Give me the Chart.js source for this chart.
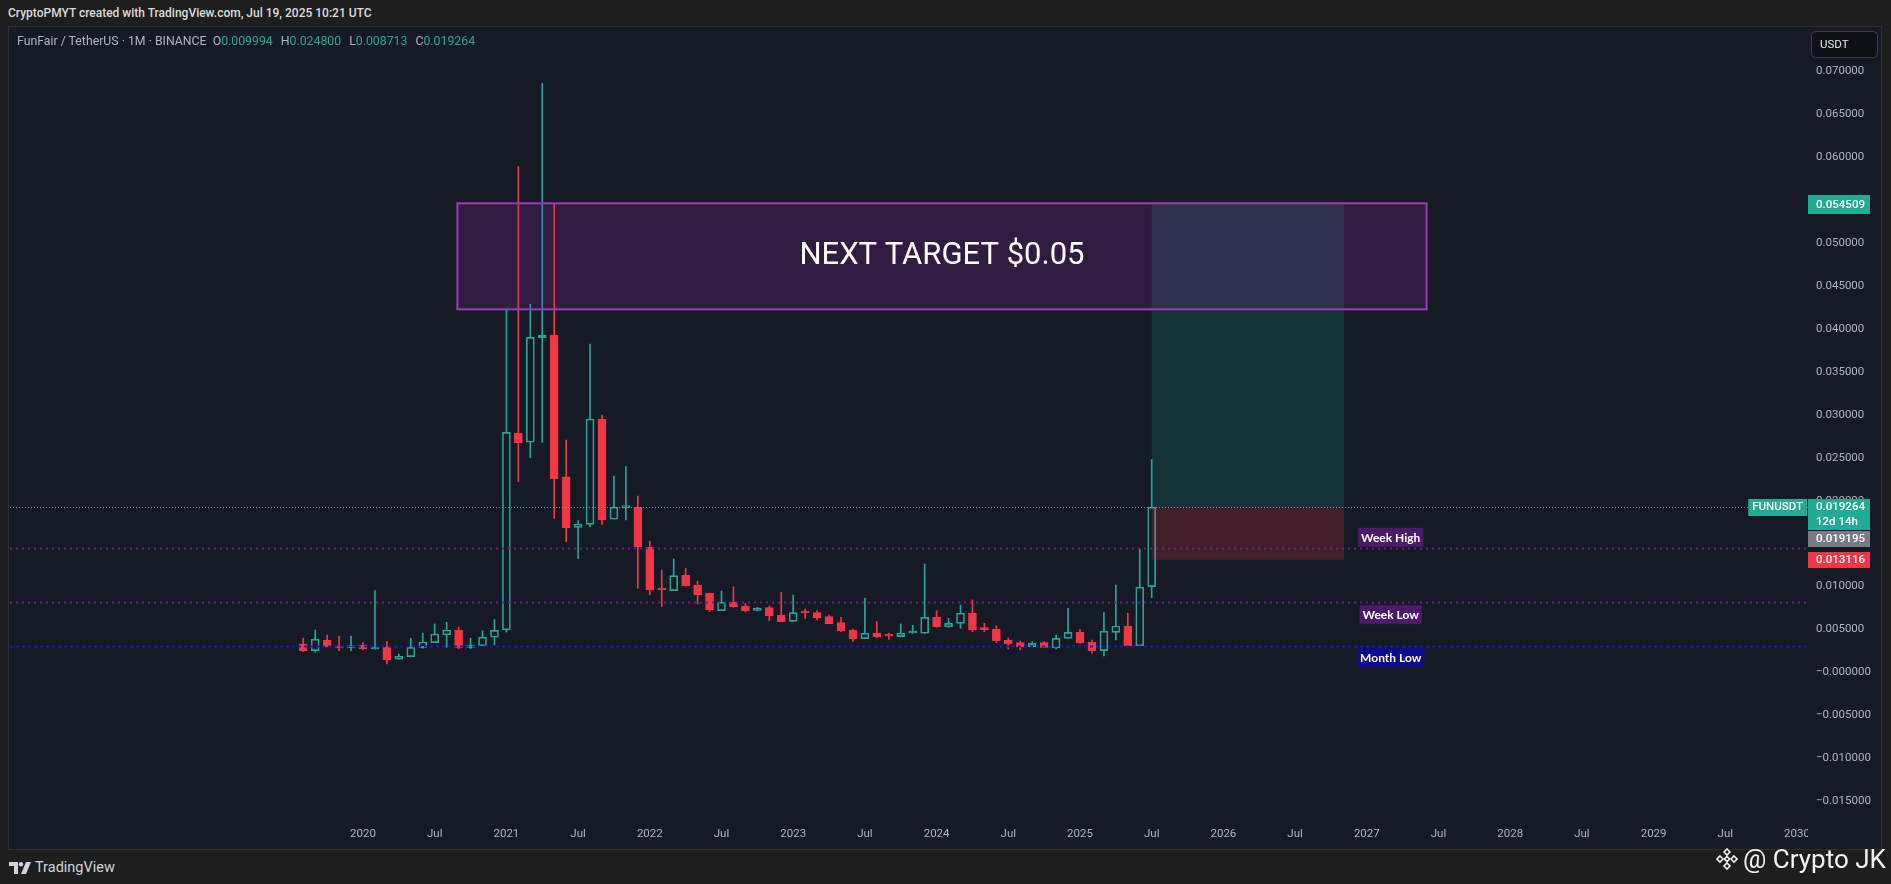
<!DOCTYPE html>
<html>
<head>
<meta charset="utf-8">
<title>FUNUSDT 1M</title>
<script src="https://cdn.jsdelivr.net/npm/chart.js@4.4.1/dist/chart.umd.min.js"></script>
<style>
  body { margin: 0; background: #1e1e1e; width: 1891px; height: 884px; overflow: hidden; position: relative;
         font-family: Roboto, "Liberation Sans", sans-serif; }
  #hdr { position: absolute; left: 8px; top: 6px; color: #dcdcdc; font-size: 12px; font-weight: 500; white-space: nowrap; }
  #pane { position: absolute; left: 9px; top: 27px; width: 1872px; height: 822px; background: #161a25; outline: 1px solid #2a2e39; }
  #legend { position: absolute; left: 8px; top: 7px; z-index: 2; color: #b2b5be; font-size: 12.3px; white-space: nowrap; }
  #legend .v { color: #22ab94; margin-right: 8px; }
  #tvlogo { position: absolute; left: 9px; top: 859px; display: flex; align-items: center; color: #d1d4dc; font-size: 14.5px; }
  #tvlogo svg { margin-right: 4px; }
  #wm { position: absolute; left: 1716px; top: 844px; display: flex; align-items: center; color: #f2f2f2; font-size: 26px; }
  #wm svg { margin-right: 5px; }
</style>
</head>
<body>
<div id="hdr">CryptoPMYT created with TradingView.com, Jul 19, 2025 10:21 UTC</div>
<div id="pane">
  <div id="legend">FunFair / TetherUS · 1M · BINANCE&nbsp; O<span class="v">0.009994</span>H<span class="v">0.024800</span>L<span class="v">0.008713</span>C<span class="v">0.019264</span></div>
  <canvas id="chart"></canvas>
</div>
<div id="tvlogo">
  <svg width="22" height="12" viewBox="0 0 22 12"><path d="M0 0h9v12H5V4H0z" fill="#d1d4dc"/><circle cx="12" cy="2.2" r="2.2" fill="#d1d4dc"/><path d="M17 0h5l-5 12h-5z" fill="#d1d4dc"/></svg>
  <span>TradingView</span>
</div>
<div id="wm">
  <svg width="22" height="22" viewBox="0 0 22 22" fill="none" stroke="#f2f2f2" stroke-width="1.6">
    <path d="M11 1l3 3-3 3-3-3z"/><path d="M11 15l3 3-3 3-3-3z"/><path d="M4 8l3 3-3 3-3-3z"/><path d="M18 8l3 3-3 3-3-3z"/><path d="M11 8.5l2.5 2.5-2.5 2.5-2.5-2.5z"/>
  </svg>
  <span>@ Crypto JK</span>
</div>
<script>
// monthly candles, Aug 2019 .. Jul 2025
const months = [
  '2019-08','2019-09','2019-10','2019-11','2019-12',
  '2020-01','2020-02','2020-03','2020-04','2020-05','2020-06','2020-07','2020-08','2020-09','2020-10','2020-11','2020-12',
  '2021-01','2021-02','2021-03','2021-04','2021-05','2021-06','2021-07','2021-08','2021-09','2021-10','2021-11','2021-12',
  '2022-01','2022-02','2022-03','2022-04','2022-05','2022-06','2022-07','2022-08','2022-09','2022-10','2022-11','2022-12',
  '2023-01','2023-02','2023-03','2023-04','2023-05','2023-06','2023-07','2023-08','2023-09','2023-10','2023-11','2023-12',
  '2024-01','2024-02','2024-03','2024-04','2024-05','2024-06','2024-07','2024-08','2024-09','2024-10','2024-11','2024-12',
  '2025-01','2025-02','2025-03','2025-04','2025-05','2025-06','2025-07'
];
const opens = [
  0.00331,0.00253,0.00374,0.00311,0.00288,
  0.00319,0.00273,0.00296,0.00153,0.00183,0.00288,0.00346,0.00439,0.00494,0.00288,0.00311,0.00409,
  0.00495,0.02786,0.02681,0.03900,0.03931,0.02280,0.01690,0.01725,0.02952,0.01784,0.01920,0.01924,
  0.01458,0.00972,0.00952,0.01131,0.01015,0.00922,0.00719,0.00820,0.00774,0.00723,0.00754,0.00669,
  0.00595,0.00700,0.00696,0.00649,0.00579,0.00494,0.00393,0.00456,0.00432,0.00416,0.00459,0.00456,
  0.00642,0.00532,0.00572,0.00692,0.00502,0.00502,0.00377,0.00346,0.00300,0.00346,0.00284,0.00397,
  0.00467,0.00354,0.00253,0.00467,0.00541,0.00311,0.009994
];
const highs = [
  0.00401,0.00494,0.00436,0.00424,0.00424,
  0.00346,0.00952,0.00362,0.00214,0.00397,0.00456,0.00564,0.00584,0.00529,0.00397,0.00486,0.00619,
  0.04222,0.05892,0.04289,0.06864,0.05465,0.02708,0.01768,0.03826,0.02999,0.02288,0.02397,0.02055,
  0.01531,0.01193,0.01321,0.01213,0.01065,0.00922,0.00948,0.00998,0.00805,0.00758,0.00774,0.00933,
  0.00902,0.00739,0.00719,0.00669,0.00642,0.00505,0.00863,0.00591,0.00456,0.00564,0.00548,0.01263,
  0.00719,0.00630,0.00785,0.00844,0.00572,0.00544,0.00401,0.00366,0.00358,0.00358,0.00436,0.00747,
  0.00502,0.00377,0.00696,0.01018,0.00689,0.01434,0.024800
];
const lows = [
  0.00241,0.00234,0.00296,0.00253,0.00253,
  0.00268,0.00270,0.00098,0.00150,0.00180,0.00281,0.00346,0.00292,0.00273,0.00276,0.00311,0.00319,
  0.00470,0.02222,0.02501,0.02681,0.01795,0.01523,0.01329,0.01698,0.01725,0.01784,0.01776,0.00980,
  0.00902,0.00765,0.00952,0.01007,0.00797,0.00707,0.00719,0.00758,0.00704,0.00715,0.00602,0.00591,
  0.00595,0.00630,0.00611,0.00567,0.00474,0.00358,0.00393,0.00405,0.00386,0.00412,0.00455,0.00452,
  0.00525,0.00525,0.00514,0.00474,0.00474,0.00346,0.00273,0.00261,0.00300,0.00292,0.00273,0.00397,
  0.00339,0.00222,0.00191,0.00377,0.00300,0.00311,0.008713
];
const closes = [
  0.00249,0.00386,0.00300,0.00284,0.00308,
  0.00273,0.00292,0.00144,0.00188,0.00292,0.00354,0.00447,0.00494,0.00284,0.00316,0.00409,0.00490,
  0.02797,0.02676,0.03904,0.03931,0.02253,0.01686,0.01729,0.02952,0.01776,0.01924,0.01928,0.01465,
  0.00960,0.00960,0.01127,0.01007,0.00905,0.00727,0.00817,0.00765,0.00719,0.00750,0.00657,0.00591,
  0.00696,0.00692,0.00634,0.00567,0.00486,0.00393,0.00456,0.00412,0.00424,0.00456,0.00467,0.00642,
  0.00532,0.00572,0.00689,0.00494,0.00498,0.00369,0.00331,0.00296,0.00339,0.00292,0.00397,0.00467,
  0.00346,0.00253,0.00479,0.00541,0.00308,0.00992,0.019264
];

const yTickValues = [0.07,0.065,0.06,0.055,0.05,0.045,0.04,0.035,0.03,0.025,0.02,0.015,0.01,0.005,0,-0.005,-0.01,-0.015];
const xTickLabels = ['2020','Jul','2021','Jul','2022','Jul','2023','Jul','2024','Jul','2025','Jul','2026','Jul','2027','Jul','2028','Jul','2029','Jul','2030'];

// drawings (x in months since Jan 2020)
const targetText = 'NEXT TARGET $0.05';
const targetZone = { start: 7.9, end: 89.0, top: 0.05465, bottom: 0.0423 };
const position = { start: 66, end: 82.1, entry: 0.019264, target: 0.054509, stop: 0.013116 };
const levelNames = ['Week High', 'Week Low', 'Month Low'];
const levelValues = [0.01446, 0.00824, 0.00311];
const levelLabelAt = 86.0;
const prevClose = 0.019195;
const countdown = '12d 14h';

const TEAL = '#26a69a', RED = '#f23645';
const xMin = -29.54, xMax = 120.92, yMin = -0.016964, yMax = 0.075079;

function monthIndex(s) {
  const [yy, mm] = s.split('-').map(Number);
  return (yy - 2020) * 12 + (mm - 1);
}

const up = closes.map((c, i) => c >= opens[i]);
const bodies = months.map((m, i) => ({ x: monthIndex(m), y: [opens[i], closes[i]] }));
const upperWicks = months.map((m, i) => ({ x: monthIndex(m), y: [Math.max(opens[i], closes[i]), highs[i]] }));
const lowerWicks = months.map((m, i) => ({ x: monthIndex(m), y: [lows[i], Math.min(opens[i], closes[i])] }));
const candleColor = up.map(u => u ? TEAL : RED);

function dotted(ctx, a, yPix, color, width, dash) {
  ctx.save();
  ctx.strokeStyle = color;
  ctx.lineWidth = width;
  ctx.setLineDash(dash);
  ctx.beginPath();
  ctx.moveTo(a.left, Math.round(yPix) + 0.5);
  ctx.lineTo(a.right, Math.round(yPix) + 0.5);
  ctx.stroke();
  ctx.restore();
}

function tag(ctx, left, top, w, h, bg, lines) {
  ctx.fillStyle = bg;
  ctx.fillRect(left, top, w, h);
  ctx.fillStyle = '#ffffff';
  ctx.textBaseline = 'middle';
  ctx.textAlign = 'left';
  lines.forEach((t, i) => ctx.fillText(t, left + 8, top + h / (lines.length > 1 ? 4 : 2) + 0.5 + i * 14.5));
}

const overlay = {
  id: 'overlay',
  afterDatasetsDraw(chart) {
    const { ctx, chartArea: a, scales: { x, y } } = chart;
    ctx.save();
    ctx.beginPath();
    ctx.rect(a.left, a.top, a.right - a.left, a.bottom - a.top);
    ctx.clip();

    // long position tool
    const p0 = x.getPixelForValue(position.start), p1 = x.getPixelForValue(position.end);
    const yE = y.getPixelForValue(position.entry), yT = y.getPixelForValue(position.target), yS = y.getPixelForValue(position.stop);
    ctx.fillStyle = 'rgba(8,153,129,0.2)';
    ctx.fillRect(p0, yT, p1 - p0, yE - yT);
    ctx.fillStyle = 'rgba(242,54,69,0.2)';
    ctx.fillRect(p0, yE, p1 - p0, yS - yE);

    // target rectangle
    const b0 = x.getPixelForValue(targetZone.start), b1 = x.getPixelForValue(targetZone.end);
    const bt = y.getPixelForValue(targetZone.top), bb = y.getPixelForValue(targetZone.bottom);
    ctx.fillStyle = 'rgba(156,39,176,0.2)';
    ctx.fillRect(b0, bt, b1 - b0, bb - bt);
    ctx.strokeStyle = '#9a3db6';
    ctx.lineWidth = 2;
    ctx.strokeRect(b0, bt, b1 - b0, bb - bt);
    ctx.fillStyle = '#ffffff';
    ctx.font = '31px Roboto, sans-serif';
    ctx.textAlign = 'center';
    ctx.textBaseline = 'middle';
    ctx.fillText(targetText, (b0 + b1) / 2, (bt + bb) / 2);

    // horizontal levels
    dotted(ctx, a, y.getPixelForValue(closes[closes.length - 1]), 'rgba(160,175,180,0.75)', 1, [1, 2]);
    dotted(ctx, a, y.getPixelForValue(levelValues[0]), '#6a1f8c', 2, [2, 4]);
    dotted(ctx, a, y.getPixelForValue(levelValues[1]), '#6a1f8c', 2, [2, 4]);
    dotted(ctx, a, y.getPixelForValue(levelValues[2]), '#1c1c9a', 2, [3, 3]);

    // level labels
    const lx = x.getPixelForValue(levelLabelAt);
    const offsets = [-11, 13, 12];
    const bgs = ['#4b1a68', '#4b1a68', '#0b0b8e'];
    ctx.font = 'bold 12px Lato, sans-serif';
    levelNames.forEach((name, i) => {
      const cy = y.getPixelForValue(levelValues[i]) + offsets[i];
      const w = ctx.measureText(name).width + 6;
      ctx.fillStyle = bgs[i];
      ctx.fillRect(lx - w / 2, cy - 9.5, w, 19);
      ctx.fillStyle = '#ffffff';
      ctx.textAlign = 'center';
      ctx.fillText(name, lx, cy + 0.5);
    });
    ctx.restore();
  },
  afterDraw(chart) {
    const { ctx, chartArea: a, scales: { y } } = chart;
    const W = chart.width, H = chart.height;
    ctx.save();
    // time axis stops at the price axis
    ctx.fillStyle = '#161a25';
    ctx.fillRect(a.right, a.bottom, W - a.right, H - a.bottom);

    ctx.font = '500 11.5px Roboto, sans-serif';
    const left = a.right, w = 62;
    const yTg = y.getPixelForValue(position.target);
    tag(ctx, left, Math.round(yTg) - 10, w, 19, '#22ab94', [position.target.toFixed(6)]);
    const last = closes[closes.length - 1];
    const yL = Math.round(y.getPixelForValue(last)) - 8;
    tag(ctx, left, yL, w, 31, '#22ab94', [last.toFixed(6), countdown]);
    tag(ctx, left, yL + 32, w, 16, '#787b86', [prevClose.toFixed(6)]);
    tag(ctx, left, Math.round(y.getPixelForValue(position.stop)) - 8, w, 16, RED, [position.stop.toFixed(6)]);
    // symbol tag
    const sw = ctx.measureText('FUNUSDT').width + 8;
    tag(ctx, left - sw - 1, yL, sw, 17, '#22ab94', []);
    ctx.fillStyle = '#ffffff';
    ctx.textAlign = 'left';
    ctx.fillText('FUNUSDT', left - sw + 3, yL + 8.5);

    // currency button
    ctx.fillStyle = '#0f1116';
    ctx.strokeStyle = '#3a3d45';
    ctx.lineWidth = 1;
    ctx.beginPath();
    ctx.roundRect(left + 3.5, 4.5, 66, 26, 4);
    ctx.fill();
    ctx.stroke();
    ctx.fillStyle = '#e6e6e6';
    ctx.font = '11.5px Roboto, sans-serif';
    ctx.fillText('USDT', left + 12, 18);
    ctx.restore();
  }
};

new Chart(document.getElementById('chart'), {
  type: 'bar',
  data: {
    datasets: [
      { data: bodies, backgroundColor: up.map(u => u ? 'rgba(0,0,0,0)' : RED), borderColor: candleColor,
        borderWidth: 1, borderSkipped: false, barThickness: 8, minBarLength: 2 },
      { data: upperWicks, backgroundColor: candleColor, borderWidth: 0, barThickness: 1 },
      { data: lowerWicks, backgroundColor: candleColor, borderWidth: 0, barThickness: 1 }
    ]
  },
  options: {
    responsive: true,
    maintainAspectRatio: false,
    animation: false,
    datasets: { bar: { grouped: false } },
    layout: { padding: { left: 1, top: 1, right: 0, bottom: 0 } },
    plugins: { legend: { display: false }, tooltip: { enabled: false } },
    scales: {
      x: {
        type: 'linear', min: xMin, max: xMax, offset: false,
        grid: { display: false, drawTicks: false }, border: { display: false },
        afterFit(s) { s.height = 31; },
        afterBuildTicks(s) { s.ticks = xTickLabels.map((l, i) => ({ value: i * 6 })); },
        ticks: { color: '#b2b5be', font: { family: 'Roboto', size: 11.5 }, padding: 9, maxRotation: 0, autoSkip: false,
                 callback: (v, i) => xTickLabels[i] }
      },
      y: {
        position: 'right', min: yMin, max: yMax,
        grid: { display: false, drawTicks: false }, border: { display: false },
        afterFit(s) { s.width = 73; s.paddingTop = 0; s.paddingBottom = 0; },
        afterBuildTicks(s) { s.ticks = yTickValues.map(v => ({ value: v })); },
        ticks: { color: '#b2b5be', font: { family: 'Roboto', size: 11.5 }, padding: 8,
                 callback: v => (v <= 0 ? '\u2212' : '') + Math.abs(v).toFixed(6) }
      }
    }
  },
  plugins: [overlay]
});
</script>
</body>
</html>
